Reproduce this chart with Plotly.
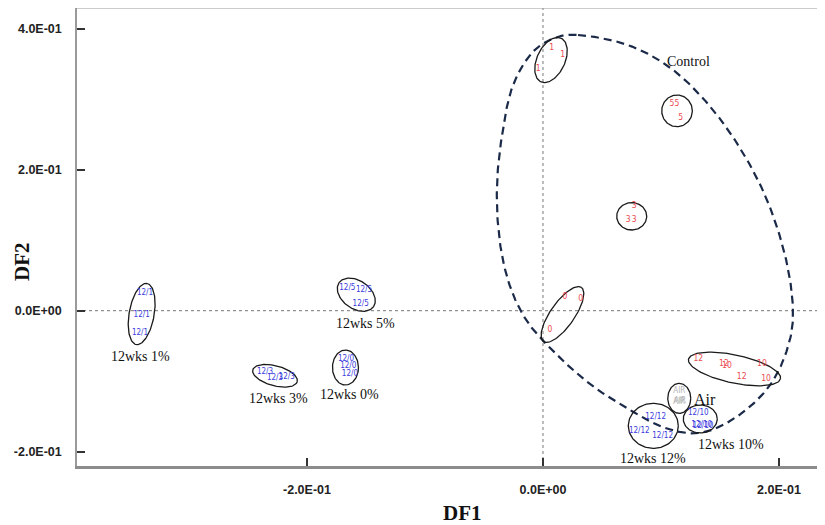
import numpy as np
import plotly.graph_objects as go

# ---------------- data (discriminant scores DF1 / DF2) ----------------
control_labels = ["1", "1", "1", "5", "5", "5", "3", "3", "3", "0", "0", "0",
                  "12", "12", "12", "10", "10", "10"]
control_df1 = [0.0074, 0.0167, -0.0040, 0.1093, 0.1136, 0.1167, 0.0774, 0.0723, 0.0774,
               0.0186, 0.0319, 0.0059, 0.1316, 0.1534, 0.1684, 0.1559, 0.1856, 0.1890]
control_df2 = [0.3722, 0.3627, 0.3424, 0.2932, 0.2932, 0.2729, 0.1485, 0.1287, 0.1287,
               0.0190, 0.0162, -0.0274, -0.0685, -0.0756, -0.0936, -0.0784, -0.0760, -0.0969]

air_labels = ["AIR", "AIR", "AIR"]
air_df1 = [0.1155, 0.1161, 0.1153]
air_df2 = [-0.1135, -0.1277, -0.1295]

treated_labels = ["12/10", "12/10", "12/10", "12/12", "12/12", "12/12",
                  "12/1", "12/1", "12/1", "12/5", "12/5", "12/5",
                  "12/3", "12/3", "12/3", "12/0", "12/0", "12/0"]
treated_df1 = [0.1316, 0.1345, 0.1356, 0.0955, 0.0816, 0.1014,
               -0.3373, -0.3401, -0.3415, -0.1658, -0.1517, -0.1545,
               -0.2356, -0.2271, -0.2172, -0.1669, -0.1650, -0.1636]
treated_df2 = [-0.1455, -0.1621, -0.1636, -0.1504, -0.1706, -0.1777,
               0.0255, -0.0061, -0.0321, 0.0318, 0.0294, 0.0095,
               -0.0865, -0.0959, -0.0945, -0.0689, -0.0784, -0.0898]

group_names = ["Control", "Air", "12wks 10%", "12wks 12%", "12wks 1%",
               "12wks 5%", "12wks 3%", "12wks 0%"]
group_label_df1 = [0.1229, 0.1373, 0.1593, 0.0935, -0.3415, -0.1508, -0.2243, -0.1636]
group_label_df2 = [0.3532, -0.1257, -0.1891, -0.2094, -0.0643, -0.0179, -0.1243, -0.1182]

x_ticks = [-0.2, 0.0, 0.2]
y_ticks = [-0.2, 0.0, 0.2, 0.4]
x_tick_text = ["-2.0E-01", "0.0E+00", "2.0E-01"]
y_tick_text = ["-2.0E-01", "0.0E+00", "2.0E-01", "4.0E-01"]

# replicate-cluster ellipses: centre (data), semi-axes (px), rotation (deg)
ell_cx = [0.0068, 0.1136, 0.0752, 0.0165, 0.1623, 0.1155, 0.1333, 0.0935,
          -0.3401, -0.1582, -0.2271, -0.1674]
ell_cy = [0.3556, 0.2835, 0.1339, -0.0054, -0.0827, -0.1243, -0.1536, -0.1633,
          -0.0047, 0.0227, -0.0923, -0.0806]
ell_a = [24, 15.3, 15, 33, 47, 11.5, 17, 25, 31, 21, 23, 13]
ell_b = [14, 15.8, 13.7, 12, 14, 15, 14, 22.5, 12.5, 14, 10, 17.5]
ell_ang = [65, 0, 0, 55, -12, 0, 0, 0, 80, -35, -15, 0]

# hand-drawn outline around the control group (control points of a closed curve)
hull_df1 = [0.0297, 0.0695, 0.1034, 0.1331, 0.1627, 0.1881, 0.2051, 0.2119, 0.2068,
            0.1907, 0.1627, 0.1331, 0.1034, 0.0737, 0.0398, 0.0076, -0.0153, -0.0297,
            -0.0373, -0.0390, -0.0347, -0.0263, -0.0110, 0.0076]
hull_df2 = [0.3911, 0.3783, 0.3499, 0.3060, 0.2421, 0.1641, 0.0790, 0.0010, -0.0557,
            -0.1096, -0.1522, -0.1734, -0.1663, -0.1408, -0.1040, -0.0557, -0.0104, 0.0435,
            0.1074, 0.1783, 0.2492, 0.3159, 0.3627, 0.3854]

# ---------------- layout geometry ----------------
OFF = 8                     # default page margin around the figure
W, H = 825 - OFF, 525 - OFF
ML, MR, MT, MB = 69, 0, 0, 59
XR = [-0.3949, 0.2390]
YR = [-0.2203, 0.4294]
PW, PH = W - ML - MR, H - MT - MB
SX = PW / (XR[1] - XR[0])
SY = PH / (YR[1] - YR[0])

small_font = "Liberation Sans Narrow, DejaVu Sans Condensed, Arial Narrow, sans-serif"
serif = "Liberation Serif, Times New Roman, serif"


def closed_curve(xs, ys, n=24):
    P = np.column_stack([xs, ys])
    N = len(P)
    out = []
    for i in range(N):
        p0, p1, p2, p3 = P[(i - 1) % N], P[i], P[(i + 1) % N], P[(i + 2) % N]
        for t in np.linspace(0, 1, n, endpoint=False):
            t2, t3 = t * t, t * t * t
            out.append(0.5 * (2 * p1 + (-p0 + p2) * t + (2 * p0 - 5 * p1 + 4 * p2 - p3) * t2
                              + (-p0 + 3 * p1 - 3 * p2 + p3) * t3))
    out.append(out[0])
    out = np.array(out)
    return out[:, 0], out[:, 1]


fig = go.Figure()

hx, hy = closed_curve(hull_df1, hull_df2)
fig.add_trace(go.Scatter(x=hx, y=hy, mode="lines",
                         line=dict(color="#1b2a48", width=2.2, dash="8px,5px"),
                         hoverinfo="skip", showlegend=False))

t = np.linspace(0, 2 * np.pi, 120)
for cx, cy, a, b, ang in zip(ell_cx, ell_cy, ell_a, ell_b, ell_ang):
    th = np.deg2rad(ang)
    dx = a * np.cos(t) * np.cos(th) - b * np.sin(t) * np.sin(th)
    dy = a * np.cos(t) * np.sin(th) + b * np.sin(t) * np.cos(th)
    fig.add_trace(go.Scatter(x=cx + dx / SX, y=cy + dy / SY, mode="lines",
                             line=dict(color="#1a1a1a", width=1.3),
                             hoverinfo="skip", showlegend=False))

fig.add_trace(go.Scatter(x=control_df1, y=control_df2, mode="text", text=control_labels,
                         textfont=dict(family=small_font, size=8.5, color="#ec4b52"),
                         showlegend=False))
fig.add_trace(go.Scatter(x=air_df1, y=air_df2, mode="text", text=air_labels,
                         textfont=dict(family=small_font, size=8, color="#b4b4b4"),
                         showlegend=False))
fig.add_trace(go.Scatter(x=treated_df1, y=treated_df2, mode="text", text=treated_labels,
                         textfont=dict(family=small_font, size=8, color="#3a3adc"),
                         showlegend=False))

for name, gx, gy in zip(group_names, group_label_df1, group_label_df2):
    fig.add_annotation(x=gx, y=gy, text=name, showarrow=False,
                       font=dict(family=serif, size=16 if name == "Air" else 14, color="#111111"))

fig.add_shape(type="line", xref="x", yref="paper", x0=0, x1=0, y0=0, y1=1,
              line=dict(color="#777777", width=1, dash="dot"), layer="below")
fig.add_shape(type="line", xref="paper", yref="y", x0=0, x1=1, y0=0, y1=0,
              line=dict(color="#777777", width=1, dash="dot"), layer="below")
fig.add_shape(type="line", xref="paper", yref="paper", x0=0, x1=1, y0=1, y1=1,
              line=dict(color="#9a9a9a", width=1.2))

fig.add_annotation(xref="paper", yref="paper", x=(463 - OFF - ML) / PW, y=(PH - (513 - OFF)) / PH,
                   text="<b>DF1</b>", showarrow=False, yanchor="middle",
                   font=dict(family=serif, size=21, color="#111111"))
fig.add_annotation(xref="paper", yref="paper", x=(22 - OFF - ML) / PW, y=(PH - (262 - OFF)) / PH,
                   text="<b>DF2</b>", showarrow=False, textangle=-90, xanchor="center",
                   font=dict(family=serif, size=21, color="#111111"))

axis_font = dict(family="Liberation Sans, Arial, sans-serif", size=12.5, color="#222222", weight="bold")
fig.update_xaxes(range=XR, tickvals=x_ticks, ticktext=x_tick_text, showgrid=False, zeroline=False,
                 showline=True, linecolor="#8c8c8c", linewidth=2.5, ticks="inside", ticklen=8,
                 tickwidth=1.5, tickcolor="#333333", tickfont=axis_font, ticklabelstandoff=10)
fig.update_yaxes(range=YR, tickvals=y_ticks, ticktext=y_tick_text, showgrid=False, zeroline=False,
                 showline=True, linecolor="#9a9a9a", linewidth=1.5, ticks="inside", ticklen=8,
                 tickwidth=1.5, tickcolor="#333333", tickfont=axis_font, ticklabelstandoff=11)
fig.update_layout(width=W, height=H, margin=dict(l=ML, r=MR, t=MT, b=MB),
                  plot_bgcolor="white", paper_bgcolor="white", showlegend=False)

fig.write_html("out.html")
